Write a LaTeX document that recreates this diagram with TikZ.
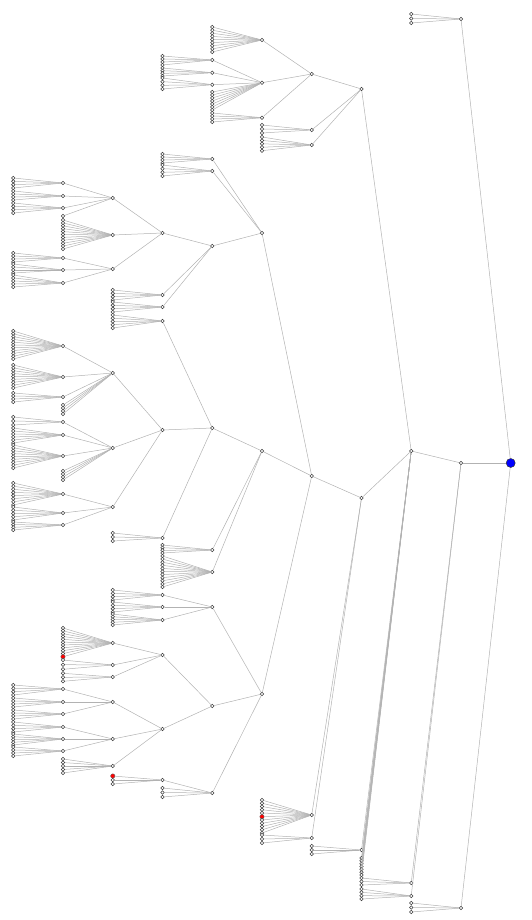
\documentclass[tikz,border=0pt]{standalone}
\begin{document}
\begin{tikzpicture}[x=1pt,y=-1pt,
  vtx/.style={circle,draw=black!75,line width=0.55pt,fill=white,minimum size=3.5pt,inner sep=0pt},
  link/.style={draw=black!30,line width=0.5pt},
  rootnode/.style={circle,draw=black!80,fill=blue,minimum size=9pt,inner sep=0pt,line width=0.5pt},
  hot/.style={circle,draw=black!60,fill=red,minimum size=4.4pt,inner sep=0pt,line width=0.4pt}]
\useasboundingbox (0,0) rectangle (532,920);
% helpers: inner vertex, link, and a column of leaves hanging off a parent
\newcommand\vt[3]{\node[vtx] (#1) at (#2,#3) {};}
\newcommand\lnk[2]{\draw[link] (#1) -- (#2);}
\newcommand\fan[6]{%
  \foreach \i in {1,...,#6}{%
    \pgfmathsetmacro\yy{#4+(\i-1)*(#5-#4)/max(#6-1,1)}%
    \node[vtx] (#1l\i) at (#3,\yy) {};
    \draw[link] (#1l\i) -- (#2);
  }}
% column x positions
\def\xa{461.0}\def\xb{411.2}\def\xc{361.5}\def\xd{311.7}\def\xe{262.0}
\def\xf{212.3}\def\xg{162.5}\def\xh{112.8}\def\xi{63.0}\def\xj{13.3}

\node[rootnode] (R) at (510.7,463) {};
\vt{A}{\xa}{19} \vt{B}{\xa}{463} \vt{C}{\xa}{908}
\lnk{A}{R} \lnk{B}{R} \lnk{C}{R}
\fan{A}{A}{\xb}{14}{23}{3}
\fan{C}{C}{\xb}{903}{912}{3}

\vt{B1}{\xb}{451} \vt{B2}{\xb}{883} \vt{B3}{\xb}{896}
\lnk{B1}{B} \lnk{B2}{B} \lnk{B3}{B}
\fan{B2}{B2}{\xc}{878}{885}{3}
\fan{B3}{B3}{\xc}{889}{899}{4}

\vt{D1}{\xc}{89} \vt{D2}{\xc}{498} \vt{D3}{\xc}{850}
\lnk{D1}{B1} \lnk{D2}{B1} \lnk{D3}{B1}
\fan{B1}{B1}{\xc}{858}{875}{7}
\fan{D3}{D3}{\xd}{846}{854}{3}

% upper branch
\vt{E1}{\xd}{74} \vt{E2}{\xd}{130} \vt{E3}{\xd}{145}
\lnk{E1}{D1} \lnk{E2}{D1} \lnk{E3}{D1}
\vt{F1}{\xe}{40} \vt{F2}{\xe}{82.7} \vt{F3}{\xe}{117.7}
\lnk{F1}{E1} \lnk{F2}{E1} \lnk{F3}{E1}
\fan{F1}{F1}{\xf}{27}{52}{9}
\vt{G1}{\xf}{60} \vt{G2}{\xf}{72.7} \vt{G3}{\xf}{84.7}
\lnk{G1}{F2} \lnk{G2}{F2} \lnk{G3}{F2}
\fan{F2}{F2}{\xf}{92}{110}{7}
\fan{G1}{G1}{\xg}{56}{65}{4}
\fan{G2}{G2}{\xg}{68}{76}{4}
\fan{G3}{G3}{\xg}{78}{89}{4}
\fan{F3}{F3}{\xf}{113}{122}{4}
\fan{E2}{E2}{\xe}{125}{133}{3}
\fan{E3}{E3}{\xe}{137}{150.7}{5}

% middle branch
\vt{E4}{\xd}{476} \vt{E5}{\xd}{815} \vt{E6}{\xd}{838}
\lnk{E4}{D2} \lnk{E5}{D2} \lnk{E6}{D2}
\fan{E5a}{E5}{\xe}{800}{813}{5}
\node[hot] (E5r) at (\xe,816.7) {}; \lnk{E5r}{E5}
\fan{E5b}{E5}{\xe}{820}{833}{5}
\fan{E6}{E6}{\xe}{835}{843}{3}

\vt{F4}{\xe}{233} \vt{F5}{\xe}{451} \vt{F6}{\xe}{694}
\lnk{F4}{E4} \lnk{F5}{E4} \lnk{F6}{E4}

\vt{G4}{\xf}{159} \vt{G5}{\xf}{171} \vt{G6}{\xf}{246}
\lnk{G4}{F4} \lnk{G5}{F4} \lnk{G6}{F4}
\fan{G4}{G4}{\xg}{154}{163}{4}
\fan{G5}{G5}{\xg}{165}{176}{4}
\vt{H1}{\xg}{233} \vt{H2}{\xg}{295} \vt{H3}{\xg}{307}
\lnk{H1}{G6} \lnk{H2}{G6} \lnk{H3}{G6}
\vt{I1}{\xh}{198} \vt{I2}{\xh}{235} \vt{I3}{\xh}{269}
\lnk{I1}{H1} \lnk{I2}{H1} \lnk{I3}{H1}
\vt{J1}{\xi}{183} \vt{J2}{\xi}{196} \vt{J3}{\xi}{208}
\lnk{J1}{I1} \lnk{J2}{I1} \lnk{J3}{I1}
\fan{I1}{I1}{\xi}{216}{216}{1}
\fan{J1}{J1}{\xj}{178}{188}{4}
\fan{J2}{J2}{\xj}{191}{200}{4}
\fan{J3}{J3}{\xj}{203}{213}{4}
\fan{I2}{I2}{\xi}{220}{249}{11}
\vt{J4}{\xi}{258} \vt{J5}{\xi}{270} \vt{J6}{\xi}{283}
\lnk{J4}{I3} \lnk{J5}{I3} \lnk{J6}{I3}
\fan{J4}{J4}{\xj}{253}{262}{4}
\fan{J5}{J5}{\xj}{264}{273}{4}
\fan{J6}{J6}{\xj}{275}{287}{5}
\fan{H2}{H2}{\xh}{290}{300}{4}
\fan{H3}{H3}{\xh}{302}{312}{4}

\vt{G7}{\xf}{428} \vt{G8}{\xf}{550} \vt{G9}{\xf}{572}
\lnk{G7}{F5} \lnk{G8}{F5} \lnk{G9}{F5}
\vt{H4}{\xg}{321} \vt{H5}{\xg}{430} \vt{H6}{\xg}{538}
\lnk{H4}{G7} \lnk{H5}{G7} \lnk{H6}{G7}
\fan{H4}{H4}{\xh}{315}{328}{5}
\vt{I4}{\xh}{373} \vt{I5}{\xh}{448} \vt{I6}{\xh}{507}
\lnk{I4}{H5} \lnk{I5}{H5} \lnk{I6}{H5}
\vt{J7}{\xi}{346} \vt{J8}{\xi}{377} \vt{J9}{\xi}{397}
\lnk{J7}{I4} \lnk{J8}{I4} \lnk{J9}{I4}
\fan{I4}{I4}{\xi}{405}{414}{4}
\fan{J7}{J7}{\xj}{331}{359}{11}
\fan{J8}{J8}{\xj}{365}{388}{9}
\fan{J9}{J9}{\xj}{393}{402}{4}
\vt{J10}{\xi}{422} \vt{J11}{\xi}{435} \vt{J12}{\xi}{456}
\lnk{J10}{I5} \lnk{J11}{I5} \lnk{J12}{I5}
\fan{I5}{I5}{\xi}{471}{480}{4}
\fan{J10}{J10}{\xj}{417}{425}{3}
\fan{J11}{J11}{\xj}{428}{443}{6}
\fan{J12}{J12}{\xj}{445}{468}{9}
\vt{J13}{\xi}{494} \vt{J14}{\xi}{513} \vt{J15}{\xi}{525}
\lnk{J13}{I6} \lnk{J14}{I6} \lnk{J15}{I6}
\fan{J13}{J13}{\xj}{483}{505}{8}
\fan{J14}{J14}{\xj}{507}{520}{5}
\fan{J15}{J15}{\xj}{522}{530}{4}
\fan{H6}{H6}{\xh}{533}{541}{3}
\fan{G8}{G8}{\xg}{545}{553}{4}
\fan{G9}{G9}{\xg}{556}{587}{11}

\vt{G10}{\xf}{607} \vt{G11}{\xf}{706} \vt{G12}{\xf}{793}
\lnk{G10}{F6} \lnk{G11}{F6} \lnk{G12}{F6}
\vt{H7}{\xg}{595} \vt{H8}{\xg}{607} \vt{H9}{\xg}{620}
\lnk{H7}{G10} \lnk{H8}{G10} \lnk{H9}{G10}
\fan{H7}{H7}{\xh}{590}{600}{4}
\fan{H8}{H8}{\xh}{602}{612}{4}
\fan{H9}{H9}{\xh}{614}{625}{5}
\vt{H10}{\xg}{655} \vt{H11}{\xg}{729}
\lnk{H10}{G11} \lnk{H11}{G11}
\vt{I7}{\xh}{643} \vt{I8}{\xh}{665} \vt{I9}{\xh}{677}
\lnk{I7}{H10} \lnk{I8}{H10} \lnk{I9}{H10}
\fan{I7}{I7}{\xi}{628}{653.5}{10}
\node[hot] (I7r) at (\xi,656.7) {}; \lnk{I7r}{I7}
\fan{I8}{I8}{\xi}{660}{669.3}{3}
\fan{I9}{I9}{\xi}{673.3}{681.3}{3}
\vt{I10}{\xh}{702} \vt{I11}{\xh}{739} \vt{I12}{\xh}{766}
\lnk{I10}{H11} \lnk{I11}{H11} \lnk{I12}{H11}
\vt{J16}{\xi}{689} \vt{J17}{\xi}{702} \vt{J18}{\xi}{714}
\lnk{J16}{I10} \lnk{J17}{I10} \lnk{J18}{I10}
\vt{J19}{\xi}{727} \vt{J20}{\xi}{739} \vt{J21}{\xi}{751}
\lnk{J19}{I11} \lnk{J20}{I11} \lnk{J21}{I11}
\fan{J16}{J16}{\xj}{685}{695}{4}
\fan{J17}{J17}{\xj}{698}{707}{4}
\fan{J18}{J18}{\xj}{710}{719}{4}
\fan{J19}{J19}{\xj}{722}{732}{4}
\fan{J20}{J20}{\xj}{734}{745}{5}
\fan{J21}{J21}{\xj}{747}{756}{4}
\fan{I12}{I12}{\xi}{759}{773}{5}
\vt{H12}{\xg}{780}
\lnk{H12}{G12}
\fan{G12}{G12}{\xg}{788}{797}{3}
\node[hot] (H12r) at (\xh,776) {}; \lnk{H12r}{H12}
\fan{H12}{H12}{\xh}{780}{784}{2}
\end{tikzpicture}
\end{document}
